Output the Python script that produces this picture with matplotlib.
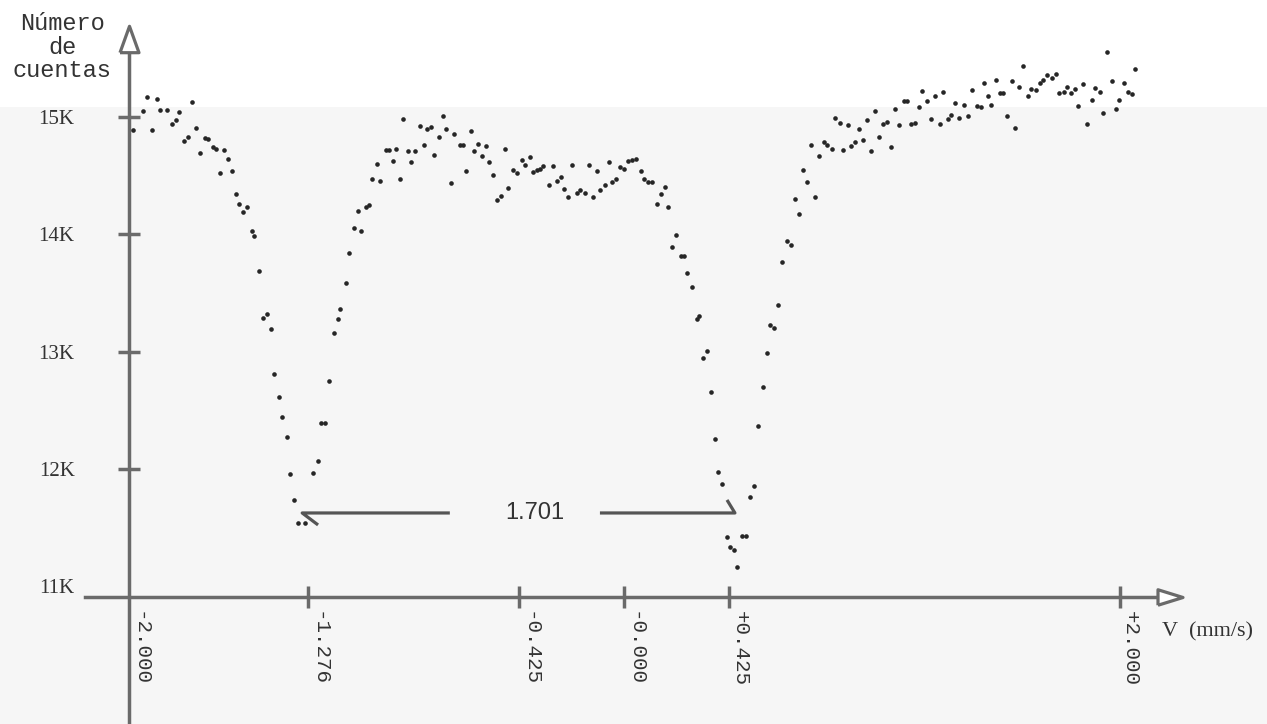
import matplotlib
matplotlib.use("Agg")
import matplotlib.pyplot as plt
from matplotlib.transforms import ScaledTranslation
from matplotlib.patches import Rectangle

# Mossbauer spectrum, velocity in mm/s, counts in thousands
velocity = [
    -1.985, -1.944, -1.926, -1.908, -1.888, -1.874, -1.847, -1.827, -1.810, -1.796,
    -1.777, -1.760, -1.746, -1.729, -1.712, -1.693, -1.682, -1.662, -1.648, -1.633,
    -1.615, -1.601, -1.584, -1.568, -1.554, -1.538, -1.524, -1.504, -1.494, -1.473,
    -1.457, -1.444, -1.426, -1.413, -1.393, -1.381, -1.360, -1.351, -1.333, -1.316,
    -1.287, -1.255, -1.238, -1.224, -1.208, -1.191, -1.173, -1.157, -1.147, -1.124,
    -1.110, -1.091, -1.076, -1.063, -1.043, -1.032, -1.017, -1.000, -0.986, -0.962,
    -0.949, -0.935, -0.920, -0.906, -0.893, -0.874, -0.861, -0.846, -0.825, -0.810,
    -0.798, -0.782, -0.767, -0.747, -0.731, -0.720, -0.698, -0.686, -0.662, -0.651,
    -0.638, -0.620, -0.606, -0.589, -0.573, -0.558, -0.545, -0.529, -0.515, -0.499,
    -0.483, -0.468, -0.449, -0.433, -0.413, -0.401, -0.381, -0.367, -0.354, -0.340,
    -0.327, -0.304, -0.289, -0.270, -0.256, -0.242, -0.226, -0.210, -0.192, -0.179,
    -0.159, -0.143, -0.128, -0.110, -0.098, -0.078, -0.063, -0.048, -0.034, -0.017,
    -0.001, 0.016, 0.032, 0.047, 0.067, 0.081, 0.097, 0.112, 0.131, 0.147,
    0.163, 0.175, 0.194, 0.209, 0.228, 0.241, 0.253, 0.272, 0.292, 0.303,
    0.317, 0.333, 0.349, 0.366, 0.379, 0.394, 0.413, 0.427, 0.443, 0.457,
    0.474, 0.490, 0.507, 0.524, 0.541, 0.559, 0.575, 0.589, 0.606, 0.622,
    0.639, 0.658, 0.673, 0.689, 0.705, 0.721, 0.736, 0.756, 0.770, 0.787,
    0.805, 0.820, 0.837, 0.851, 0.871, 0.882, 0.903, 0.914, 0.933, 0.948,
    0.965, 0.980, 0.997, 1.012, 1.029, 1.046, 1.062, 1.078, 1.092, 1.110,
    1.129, 1.140, 1.159, 1.175, 1.191, 1.203, 1.222, 1.239, 1.256, 1.273,
    1.288, 1.306, 1.320, 1.336, 1.353, 1.372, 1.386, 1.405, 1.423, 1.439,
    1.453, 1.470, 1.482, 1.499, 1.517, 1.530, 1.546, 1.564, 1.577, 1.595,
    1.611, 1.629, 1.642, 1.662, 1.678, 1.692, 1.708, 1.727, 1.743, 1.756,
    1.774, 1.787, 1.805, 1.821, 1.834, 1.852, 1.867, 1.888, 1.902, 1.920,
    1.934, 1.950, 1.968, 1.984, 1.998, 2.016, 2.032, 2.048, 2.063,
]

counts_k = [
    14.889, 15.054, 15.168, 14.889, 15.151, 15.060, 15.060, 14.938, 14.974, 15.043,
    14.798, 14.832, 15.130, 14.909, 14.696, 14.818, 14.810, 14.742, 14.725, 14.520,
    14.719, 14.645, 14.542, 14.344, 14.258, 14.193, 14.235, 14.028, 13.986, 13.690,
    13.284, 13.321, 13.195, 12.812, 12.616, 12.443, 12.275, 11.957, 11.735, 11.539,
    11.539, 11.965, 12.067, 12.391, 12.391, 12.747, 13.156, 13.280, 13.366, 13.582,
    13.841, 14.056, 14.196, 14.026, 14.235, 14.247, 14.474, 14.599, 14.457, 14.719,
    14.719, 14.622, 14.725, 14.471, 14.986, 14.708, 14.616, 14.708, 14.926, 14.764,
    14.900, 14.912, 14.673, 14.827, 15.011, 14.900, 14.435, 14.858, 14.764, 14.764,
    14.540, 14.883, 14.713, 14.770, 14.668, 14.753, 14.616, 14.503, 14.292, 14.327,
    14.725, 14.395, 14.548, 14.525, 14.633, 14.588, 14.662, 14.534, 14.548, 14.559,
    14.582, 14.418, 14.582, 14.457, 14.486, 14.384, 14.315, 14.593, 14.355, 14.378,
    14.355, 14.593, 14.321, 14.537, 14.378, 14.423, 14.616, 14.446, 14.474, 14.576,
    14.559, 14.622, 14.633, 14.645, 14.537, 14.469, 14.446, 14.446, 14.258, 14.344,
    14.406, 14.230, 13.889, 13.997, 13.815, 13.815, 13.666, 13.553, 13.280, 13.304,
    12.948, 13.005, 12.656, 12.257, 11.974, 11.871, 11.420, 11.334, 11.309, 11.164,
    11.428, 11.428, 11.761, 11.854, 12.366, 12.701, 12.991, 13.224, 13.201, 13.395,
    13.764, 13.943, 13.909, 14.297, 14.169, 14.548, 14.446, 14.764, 14.318, 14.668,
    14.787, 14.764, 14.725, 14.989, 14.951, 14.719, 14.929, 14.753, 14.787, 14.898,
    14.804, 14.974, 14.713, 15.049, 14.832, 14.938, 14.957, 14.742, 15.066, 14.929,
    15.136, 15.136, 14.940, 14.946, 15.088, 15.222, 15.139, 14.980, 15.182, 14.940,
    15.211, 14.980, 15.014, 15.117, 14.990, 15.102, 15.011, 15.228, 15.090, 15.083,
    15.287, 15.182, 15.100, 15.315, 15.202, 15.202, 15.011, 15.307, 14.906, 15.253,
    15.435, 15.179, 15.236, 15.230, 15.287, 15.311, 15.358, 15.335, 15.367, 15.205,
    15.211, 15.256, 15.207, 15.236, 15.094, 15.279, 14.943, 15.142, 15.250, 15.211,
    15.034, 15.557, 15.307, 15.066, 15.142, 15.287, 15.213, 15.194, 15.407,
]

x_ticks = [-2.0, -1.276, -0.425, 0.0, 0.425, 2.0]
x_tick_labels = ["-2.000", "-1.276", "-0.425", "-0.000", "+0.425", "+2.000"]
y_ticks = [11, 12, 13, 14, 15]
y_tick_labels = ["11K", "12K", "13K", "14K", "15K"]

# separation between the two absorption minima
split_value = "1.701"
split_left = -1.30
split_right = 0.447

AXIS_COLOR = "#6a6a6a"
AXIS_Y0 = 10.908  # counts level where the horizontal axis sits


def main():
    fig = plt.figure(figsize=(12.67, 7.24), dpi=100)
    ax = fig.add_axes([0, 0, 1, 1])
    ax.patch.set_alpha(0)
    # scanned paper tint below the top strip
    ax.add_patch(Rectangle((0.0, 0.0), 1.0, 0.852, transform=ax.transAxes,
                           color="#f6f6f6", zorder=0, lw=0))
    ax.set_xlim(-2.520, 2.595)
    ax.set_ylim(9.825, 15.997)

    # cross-shaped axes
    for side in ("top", "right"):
        ax.spines[side].set_visible(False)
    ax.spines["left"].set_position(("data", -2.0))
    ax.spines["bottom"].set_position(("data", AXIS_Y0))
    ax.spines["left"].set_bounds(9.825, 15.554)
    ax.spines["bottom"].set_bounds(-2.178, 2.155)
    for side in ("left", "bottom"):
        ax.spines[side].set_color(AXIS_COLOR)
        ax.spines[side].set_linewidth(2.5)

    # hollow arrow heads
    ax.plot(-2.0, 15.667, marker=[(-0.72, -1), (0.72, -1), (0, 1), (-0.72, -1)],
            ms=19, mfc="white", mec=AXIS_COLOR, mew=2.3, clip_on=False, zorder=4)
    ax.plot(2.205, AXIS_Y0, marker=[(-1, -0.62), (-1, 0.62), (1, 0), (-1, -0.62)],
            ms=18, mfc="white", mec=AXIS_COLOR, mew=2.3, clip_on=False, zorder=4)

    ax.set_yticks(y_ticks)
    ax.set_yticklabels(y_tick_labels, family="Liberation Serif", fontsize=15, color="#333333")
    ax.tick_params(axis="y", direction="inout", length=16, width=2.5,
                   color=AXIS_COLOR, pad=31)
    ax.yaxis.get_major_ticks()[0].tick1line.set_visible(False)

    ax.set_xticks(x_ticks)
    ax.set_xticklabels(x_tick_labels, family="Liberation Mono", fontsize=15,
                       color="#333333", rotation=270)
    ax.tick_params(axis="x", direction="inout", length=16, width=2.5,
                   color=AXIS_COLOR, pad=2)
    shift = ScaledTranslation(11 / 100, 0, fig.dpi_scale_trans)
    for label in ax.get_xticklabels():
        label.set_transform(label.get_transform() + shift)
    ax.xaxis.get_major_ticks()[0].tick1line.set_visible(False)

    ax.scatter(velocity, counts_k, s=11, c="#262626", linewidths=0, zorder=3)

    # 1.701 annotation with half arrow heads
    y_ann = 11.624
    ax.plot([-0.704, split_left, -1.236], [y_ann, y_ann, 11.522],
            color="#555555", lw=2.3, solid_capstyle="butt")
    ax.plot([-0.098, split_right, 0.415], [y_ann, y_ann, 11.735],
            color="#555555", lw=2.3, solid_capstyle="butt")
    ax.text(-0.361, y_ann, split_value, ha="center", va="center",
            family="Liberation Sans", fontsize=17, color="#333333")

    fig.text(0.049, 0.935, "Número\nde\ncuentas", ha="center", va="center",
             family="Liberation Mono", fontsize=17, linespacing=1.02, color="#333333")
    fig.text(0.953, 0.127, "V  (mm/s)", ha="center", va="center",
             family="Liberation Serif", fontsize=16, color="#333333")

    fig.savefig("out.png", dpi=100)


if __name__ == "__main__":
    main()
